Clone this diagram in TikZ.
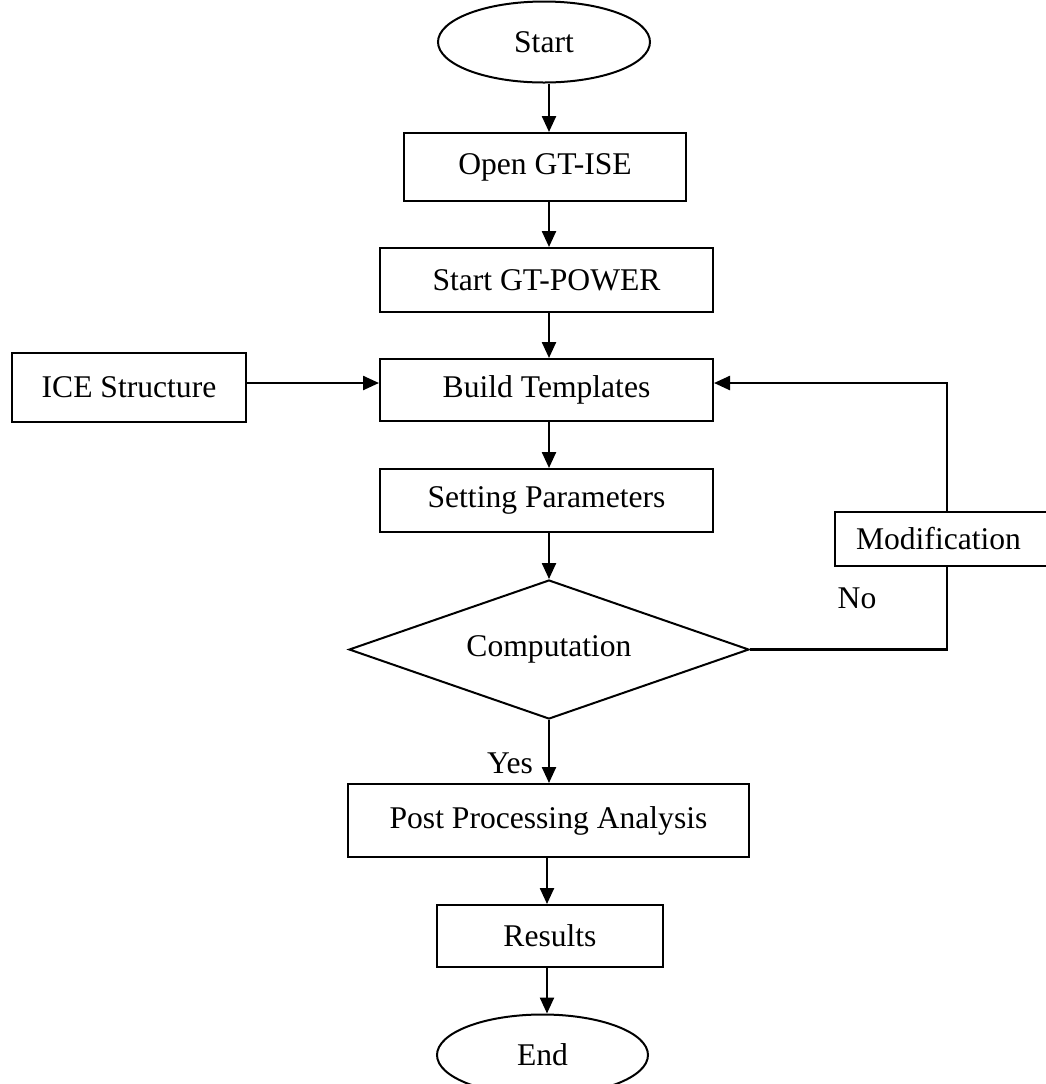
\documentclass[tikz,border=0pt]{standalone}
\usepackage{fontspec}
\setmainfont{Liberation Serif}
\usetikzlibrary{shapes.geometric,arrows.meta}
\tikzset{
  base/.style={draw=black,line width=1pt,inner sep=0pt,font=\fontsize{15.8pt}{18pt}\selectfont,fill=white},
  procbox/.style={base,rectangle},
  termnode/.style={base,ellipse},
  decide/.style={base,diamond,aspect=2.88},
  arr/.style={line width=1.2pt,-{Triangle[length=8pt,width=7pt]}},
  ln/.style={line width=1.2pt},
  lbl/.style={inner sep=0pt,font=\fontsize{15.8pt}{18pt}\selectfont}
}
\begin{document}
\begin{tikzpicture}[x=0.5pt,y=-0.5pt]
\path[use as bounding box,clip] (0,0) rectangle (1046,1084);
\fill[white] (0,0) rectangle (1046,1084);
\coordinate (axis) at (549,0);
\coordinate (axisb) at (547,0);
\coordinate (fb) at (947,383);
% nodes
\node[termnode,minimum width=106pt,minimum height=40.5pt] (start) at (544,42) {Start};
\node[procbox,minimum width=141pt,minimum height=34pt] (open) at (545,167) {Open GT-ISE};
\node[procbox,minimum width=166.5pt,minimum height=32pt] (gtp) at (546.5,280) {Start GT-POWER};
\node[procbox,minimum width=117pt,minimum height=34.5pt] (ice) at (129,387.5) {ICE Structure};
\node[procbox,minimum width=166.5pt,minimum height=31pt] (build) at (546.5,390) {Build Templates};
\node[procbox,minimum width=166.5pt,minimum height=31.5pt] (set) at (546.5,500.5) {Setting Parameters};
\node[decide,minimum width=200pt,minimum height=69.5pt] (comp) at (549,649.5) {\raisebox{3pt}{Computation}};
\node[procbox,minimum width=200.5pt,minimum height=36.5pt] (post) at (548.5,820.5) {Post Processing Analysis};
\node[procbox,minimum width=113pt,minimum height=31pt] (res) at (550,936) {Results};
\node[termnode,minimum width=105.5pt,minimum height=40.5pt] (end) at (542.5,1055) {End};
\node[procbox,anchor=west,minimum height=27pt,text width=92pt,inner xsep=10.5pt,align=left] (mod) at (834,539) {Modification};
% labels
\node[lbl] (yes) at (510,763) {Yes};
\node[lbl] (no) at (857,598) {No};
% connectors
\draw[arr] (start.south -| axis) -- (open.north -| axis);
\draw[arr] (open.south -| axis) -- (gtp.north -| axis);
\draw[arr] (gtp.south -| axis) -- (build.north -| axis);
\draw[arr] (build.south -| axis) -- (set.north -| axis);
\draw[arr] (set.south -| axis) -- (comp.north);
\draw[arr] (comp.south) -- (post.north -| comp.south);
\draw[arr] (post.south -| axisb) -- (res.north -| axisb);
\draw[arr] (res.south -| axisb) -- (end.north -| axisb);
\draw[arr] (ice.east |- fb) -- (build.west |- fb);
\draw[ln] (comp.east) -- (comp.east -| fb) -- (mod.south -| fb);
\draw[arr] (mod.north -| fb) -- (fb) -- (build.east |- fb);
\end{tikzpicture}
\end{document}
